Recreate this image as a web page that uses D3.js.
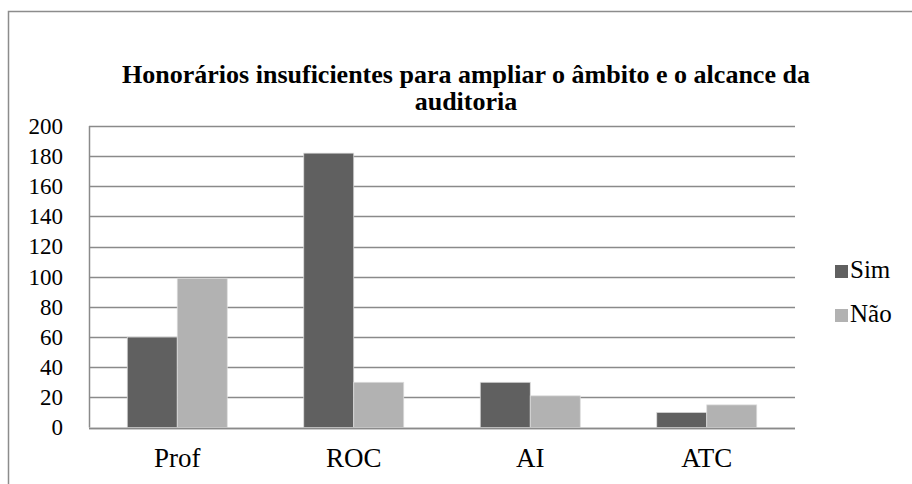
<!DOCTYPE html>
<html>
<head>
<meta charset="utf-8">
<script src="https://cdn.jsdelivr.net/npm/d3@7"></script>
<style>
  body { margin: 0; background: #fff; }
</style>
</head>
<body>
<div id="chart"></div>
<script>
// data
var categories = ["Prof", "ROC", "AI", "ATC"];
var seriesNames = ["Sim", "Não"];
var simValues = [60, 182, 30, 10];
var naoValues = [99, 30, 21, 15];
var yTicks = [0, 20, 40, 60, 80, 100, 120, 140, 160, 180, 200];
var titleLines = ["Honorários insuficientes para ampliar o âmbito e o alcance da", "auditoria"];

var width = 912, height = 484;
var colors = ["#606060", "#b2b2b2"];
var serif = "'Liberation Serif', 'Times New Roman', Times, serif";

var svg = d3.select("#chart")
    .append("svg")
    .attr("width", width)
    .attr("height", height)
    .attr("font-family", serif)
    .style("font-family", serif);

// outer frame (runs off the page right and bottom)
svg.append("rect")
    .attr("x", 8.5).attr("y", 11.5)
    .attr("width", 1000).attr("height", 600)
    .attr("fill", "none")
    .attr("stroke", "#8c8c8c")
    .attr("stroke-width", 1.5);

var plot = { left: 89, right: 795, top: 126, bottom: 427.5 };

var x = d3.scaleBand()
    .domain(categories)
    .range([plot.left, plot.right]);

var x1 = d3.scaleBand()
    .domain(seriesNames)
    .range([0, 100])
    .padding(0);

var y = d3.scaleLinear()
    .domain([0, 200])
    .range([plot.bottom, plot.top]);

// gridlines
svg.append("g")
    .selectAll("line")
    .data(yTicks)
    .enter().append("line")
    .attr("x1", plot.left).attr("x2", plot.right)
    .attr("y1", function(d) { return Math.round(y(d)) + 0.5; })
    .attr("y2", function(d) { return Math.round(y(d)) + 0.5; })
    .attr("stroke", "#8a8a8a")
    .attr("stroke-width", 1.5);

// left axis line
svg.append("line")
    .attr("x1", plot.left + 0.5).attr("x2", plot.left + 0.5)
    .attr("y1", plot.top).attr("y2", plot.bottom)
    .attr("stroke", "#8a8a8a")
    .attr("stroke-width", 1.5);

// y tick labels
svg.append("g")
    .selectAll("text")
    .data(yTicks)
    .enter().append("text")
    .attr("x", 63)
    .attr("y", function(d) { return y(d); })
    .attr("dy", "0.34em")
    .attr("text-anchor", "end")
    .style("font-size", "23px")
    .text(function(d) { return d; });

// bars
var data = categories.map(function(c, i) {
  return { cat: c, values: [{ key: "Sim", v: simValues[i] }, { key: "Não", v: naoValues[i] }] };
});

var groups = svg.append("g")
    .selectAll("g")
    .data(data)
    .enter().append("g")
    .attr("transform", function(d) {
      return "translate(" + (x(d.cat) + x.bandwidth() / 2 - 50) + ",0)";
    });

groups.selectAll("rect")
    .data(function(d) { return d.values; })
    .enter().append("rect")
    .attr("x", function(d) { return x1(d.key); })
    .attr("y", function(d) { return y(d.v); })
    .attr("width", x1.bandwidth())
    .attr("height", function(d) { return y(0) - y(d.v); })
    .attr("fill", function(d, i) { return colors[i]; })
    .attr("stroke", "#dcdcdc")
    .attr("stroke-width", 0.75);

// baseline over bars
svg.append("line")
    .attr("x1", plot.left).attr("x2", plot.right)
    .attr("y1", Math.round(y(0)) + 0.5).attr("y2", Math.round(y(0)) + 0.5)
    .attr("stroke", "#8a8a8a")
    .attr("stroke-width", 1.5);

// category labels
svg.append("g")
    .selectAll("text")
    .data(categories)
    .enter().append("text")
    .attr("x", function(d) { return x(d) + x.bandwidth() / 2; })
    .attr("y", 467)
    .attr("text-anchor", "middle")
    .style("font-size", "27px")
    .text(function(d) { return d; });

// title
svg.append("g")
    .selectAll("text")
    .data(titleLines)
    .enter().append("text")
    .attr("x", 466)
    .attr("y", function(d, i) { return 83 + i * 27; })
    .attr("text-anchor", "middle")
    .style("font-size", "26px")
    .style("font-weight", "bold")
    .text(function(d) { return d; });

// legend
var legend = svg.append("g")
    .selectAll("g")
    .data(seriesNames)
    .enter().append("g")
    .attr("transform", function(d, i) { return "translate(835," + (265 + i * 44) + ")"; });

legend.append("rect")
    .attr("width", 13).attr("height", 13)
    .attr("fill", function(d, i) { return colors[i]; });

legend.append("text")
    .attr("x", 15)
    .attr("y", 13)
    .style("font-size", "25px")
    .text(function(d) { return d; });
</script>
</body>
</html>
